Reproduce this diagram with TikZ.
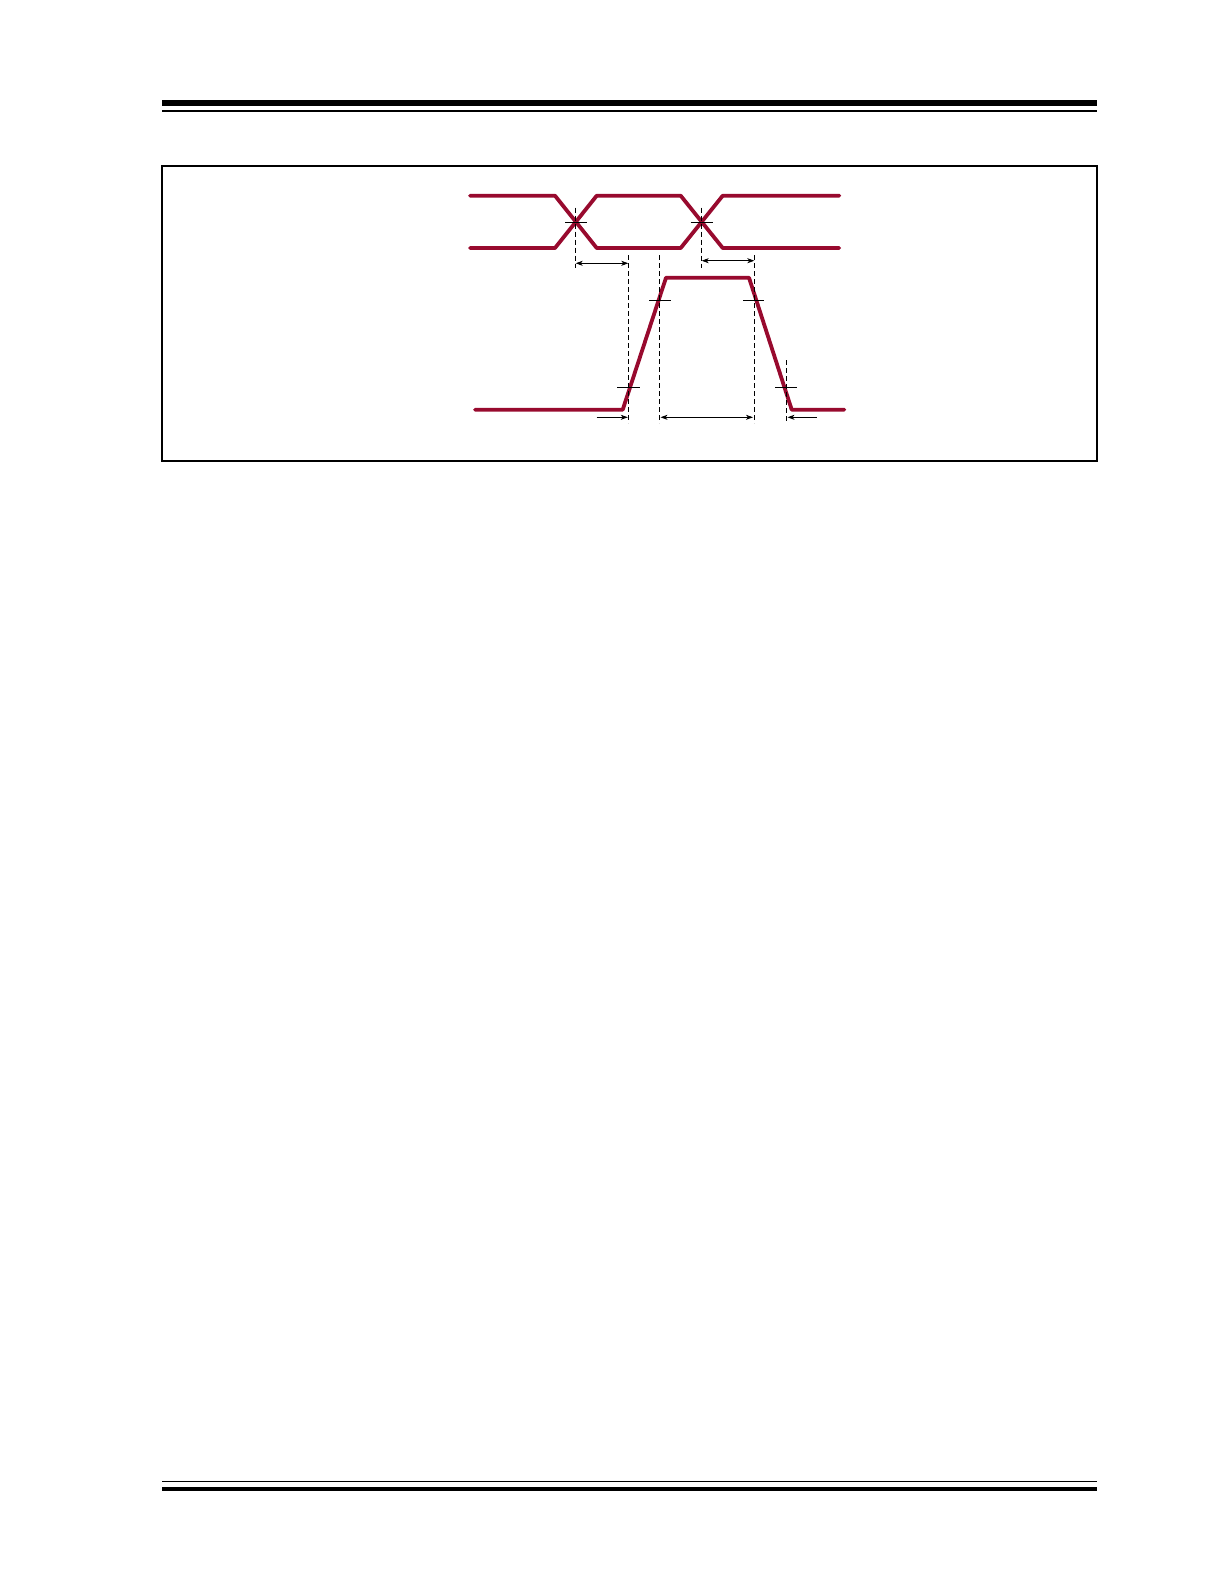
\documentclass[tikz,border=0pt]{standalone}
\usetikzlibrary{arrows.meta}
\definecolor{sig}{RGB}{152,10,46}
\begin{document}
\begin{tikzpicture}[x=1pt,y=-1pt,
  signal/.style={sig,line width=3.8pt,line cap=round,line join=round},
  guide/.style={black,line width=0.9pt,dash pattern=on 5pt off 3pt},
  tick/.style={black,line width=0.9pt},
  dim/.style={black,line width=0.8pt,-{Stealth[length=7pt,width=5pt,inset=2pt]}},
  dimboth/.style={black,line width=0.8pt,{Stealth[length=7pt,width=5pt,inset=2pt]}-{Stealth[length=7pt,width=5pt,inset=2pt]}}]
\useasboundingbox (0,0) rectangle (1224,1584);
% header / footer rules
\fill[black] (162,100.3) rectangle (1097,105.7);
\fill[black] (162,110) rectangle (1097,111.7);
\fill[black] (162,1480.7) rectangle (1097,1482.3);
\fill[black] (162,1487) rectangle (1097,1490.8);
% frame
\draw[line width=1.2pt] (162,166) rectangle (1097,461);
% data lines (crossing)
\draw[signal] (470,195.7) -- (555,195.7) -- (596.7,248) -- (680.7,248) -- (722.7,195.7) -- (839.3,195.7);
\draw[signal] (470,248) -- (555,248) -- (596.7,195.7) -- (680.7,195.7) -- (722.7,248) -- (839.3,248);
% pulse
\draw[signal] (475,409.7) -- (622.7,409.7) -- (666,277.7) -- (749,277.7) -- (791.7,409.7) -- (844.3,409.7);
% coordinates
\coordinate (c1t) at (575.7,207.7); \coordinate (c1b) at (575.7,268);
\coordinate (c2t) at (701.7,207.7); \coordinate (c2b) at (701.7,268);
\coordinate (d1t) at (628.3,255); \coordinate (d1b) at (628.3,423);
\coordinate (d2t) at (659.3,255); \coordinate (d2b) at (659.3,423);
\coordinate (d3t) at (754.3,255); \coordinate (d3b) at (754.3,423);
\coordinate (d4t) at (786.7,360); \coordinate (d4b) at (786.7,423);
% dashed guides
\draw[guide] (c1t) -- (c1b);
\draw[guide] (c2t) -- (c2b);
\draw[guide] (d1t) -- (d1b);
\draw[guide] (d2t) -- (d2b);
\draw[guide] (d3t) -- (d3b);
\draw[guide] (d4t) -- (d4b);
% crossing ticks
\draw[tick] (565,222.3) -- (586.7,222.3);
\draw[tick] (690.7,222.3) -- (712.7,222.3);
% edge ticks
\draw[tick] (649.3,300.7) -- (670.7,300.7);
\draw[tick] (743.3,300.7) -- (764.3,300.7);
\draw[tick] (617,387.3) -- (639.7,387.3);
\draw[tick] (775,387.3) -- (796.7,387.3);
% dimension arrows
\coordinate (a1l) at (575.7,263.3); \coordinate (a1r) at (628.3,263.3);
\coordinate (a2l) at (701.7,260.7); \coordinate (a2r) at (754.3,260.7);
\coordinate (b1s) at (596.7,417.3); \coordinate (b1e) at (627.8,417.3);
\coordinate (b2l) at (660.5,417.3); \coordinate (b2r) at (753,417.3);
\coordinate (b3s) at (816.7,417.3); \coordinate (b3e) at (787.5,417.3);
\draw[dimboth] (a1l) -- (a1r);
\draw[dimboth] (a2l) -- (a2r);
\draw[dim] (b1s) -- (b1e);
\draw[dimboth] (b2l) -- (b2r);
\draw[dim] (b3s) -- (b3e);
\end{tikzpicture}
\end{document}
